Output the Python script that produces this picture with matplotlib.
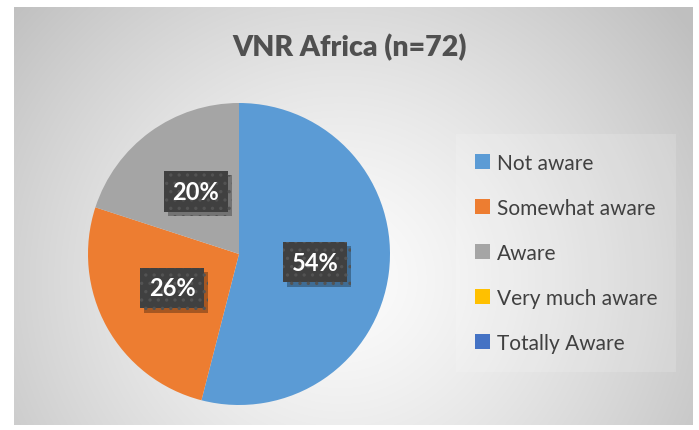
import numpy as np
import matplotlib
matplotlib.use("Agg")
import matplotlib.pyplot as plt
from matplotlib.patches import Patch
import matplotlib.patheffects as pe

categories = ["Not aware", "Somewhat aware", "Aware", "Very much aware", "Totally Aware"]
values = [54, 26, 20, 0, 0]
colors = ["#5B9BD5", "#ED7D31", "#A5A5A5", "#FFC000", "#4472C4"]
title = "VNR Africa (n=72)"

plt.rcParams['font.family'] = ['Lato', 'DejaVu Sans']
plt.rcParams['hatch.linewidth'] = 1.2

W, H = 699, 431
fig = plt.figure(figsize=(W / 100, H / 100), dpi=100)
fig.patch.set_facecolor('white')

def px_axes(x0, y0, x1, y1):
    return [x0 / W, 1 - y1 / H, (x1 - x0) / W, (y1 - y0) / H]

# background gradient (chart area)
bx0, by0, bx1, by1 = 14, 8, 693, 426
bg = fig.add_axes(px_axes(bx0, by0, bx1, by1))
gw, gh = bx1 - bx0, by1 - by0
yy, xx = np.mgrid[0:gh, 0:gw]
cx, cy = gw * 0.48, gh * 0.65
r = np.sqrt(((xx - cx) / (gw * 0.6)) ** 2 + ((yy - cy) / (gh * 0.95)) ** 2)
r = np.clip(r, 0, 1.2)
val = 0.99 - 0.22 * r ** 1.3
val = np.clip(val, 0.75, 1)
img = np.dstack([val, val, val])
bg.imshow(img, aspect='auto', extent=[0, 1, 0, 1], origin='upper')
bg.axis('off')

fig.text(350 / W, 1 - 48 / H, title, ha='center', va='center',
         fontsize=20.5, fontweight='heavy', color='#505050')

# pie
pcx, pcy, pr = 239, 255, 151
ax = fig.add_axes(px_axes(pcx - pr, pcy - pr, pcx + pr, pcy + pr))
ax.set_facecolor('none')
wedges, _ = ax.pie(values, colors=colors, startangle=90, counterclock=False,
                   radius=1.0, wedgeprops=dict(linewidth=0))
ax.set_xlim(-1, 1)
ax.set_ylim(-1, 1)
ax.set_aspect('equal')
ax.axis('off')

label_pos = [(0.503, -0.053), (-0.444, -0.225), (-0.285, 0.417)]
for (lx, ly), v in zip(label_pos, values[:3]):
    t = ax.text(lx, ly, f"{v}%", ha='center', va='center', fontsize=17, fontweight='bold',
                color='white',
                bbox=dict(boxstyle='square,pad=0.38', facecolor='#404040', hatch='..',
                          edgecolor='#535353', linewidth=0))
    t.get_bbox_patch().set_path_effects([
        pe.SimplePatchShadow(offset=(3, -3), shadow_rgbFace='black', alpha=0.3),
        pe.Normal()])

handles = [Patch(facecolor=c, edgecolor='none') for c in colors]
leg = fig.legend(handles, categories, loc='upper left',
                 bbox_to_anchor=(452 / W, 1 - 131 / H), frameon=True,
                 fontsize=15, handlelength=0.7, handleheight=0.7, handletextpad=0.35,
                 labelspacing=1.2, borderpad=0.6, labelcolor='#404040')
leg.get_frame().set_facecolor('white')
leg.get_frame().set_alpha(0.15)
leg.get_frame().set_linewidth(0)
leg.get_frame().set_boxstyle('square')

fig.savefig("out.png", dpi=100, facecolor='white')
